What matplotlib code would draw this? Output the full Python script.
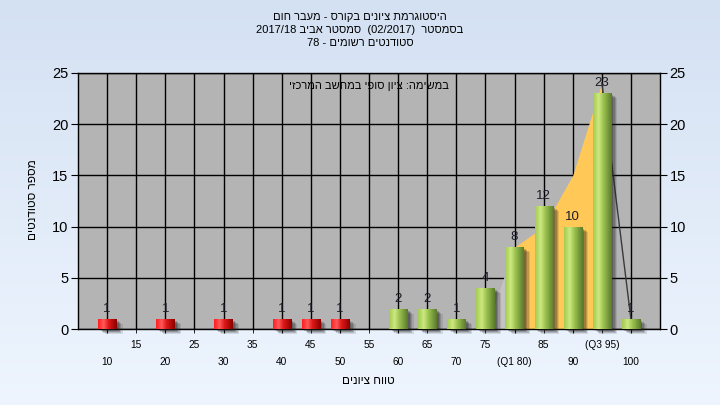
import numpy as np
import matplotlib
matplotlib.use("Agg")
import matplotlib.pyplot as plt
import matplotlib.patheffects as pe
from matplotlib.colors import LinearSegmentedColormap

plt.rcParams['font.family'] = ['Liberation Sans', 'DejaVu Sans']

# ---------------------------------------------------------------- data
grades = [10, 15, 20, 25, 30, 35, 40, 45, 50, 55, 60, 65, 70, 75, 80, 85, 90, 95, 100]
counts = [1, 0, 1, 0, 1, 0, 1, 1, 1, 0, 2, 2, 1, 4, 8, 12, 10, 23, 1]
q1_grade = 80
q3_grade = 95
pass_grade = 55

# band drawn behind the bars
area_grades = [75, 80, 85, 90, 95, 100]
area_values = [0, 8, 10, 15, 24, 1]

title_lines = ["היסטוגרמת ציונים בקורס - מעבר חום",
               "בסמסטר  (02/2017)  סמסטר אביב 2017/18",
               "סטודנטים רשומים - 78"]
task_text = "במשימה: ציון סופי במחשב המרכזי"
x_title = "טווח ציונים"
y_title = "מספר סטודנטים"

tick_text = []
for g in grades:
    if g == q1_grade:
        tick_text.append("(Q1 %d)" % g)
    elif g == q3_grade:
        tick_text.append("(Q3 %d)" % g)
    else:
        tick_text.append(str(g))


def visual(s):
    # small bidi pass (LTR paragraph) so hebrew shows right-to-left
    n = len(s)
    types = []
    for ch in s:
        if '\u0590' <= ch <= '\u05ff':
            types.append('R')
        elif ch.isdigit():
            types.append('EN')
        elif ch.isalpha():
            types.append('L')
        else:
            types.append('N')
    for i in range(1, n - 1):
        if s[i] in '/.,:' and types[i-1] == 'EN' and types[i+1] == 'EN':
            types[i] = 'EN'
    last = 'L'
    for i, t in enumerate(types):
        if t in ('L', 'R'):
            last = t
        elif t == 'EN' and last == 'L':
            types[i] = 'L'
    i = 0
    while i < n:
        if types[i] == 'N':
            j = i
            while j < n and types[j] == 'N':
                j += 1
            before = 'L' if i == 0 else ('R' if types[i-1] in ('R', 'EN') else 'L')
            after = 'L' if j == n else ('R' if types[j] in ('R', 'EN') else 'L')
            d = before if before == after else 'L'
            for k in range(i, j):
                types[k] = d
            i = j
        else:
            i += 1
    cells = [(ch, {'L': 0, 'R': 1, 'EN': 2}[t]) for ch, t in zip(s, types)]
    for lev in (2, 1):
        i = 0
        while i < n:
            if cells[i][1] >= lev:
                j = i
                while j < n and cells[j][1] >= lev:
                    j += 1
                cells[i:j] = cells[i:j][::-1]
                i = j
            else:
                i += 1
    mirror = {'(': ')', ')': '('}
    return ''.join(mirror.get(c, c) if lev % 2 == 1 else c for c, lev in cells)


# ---------------------------------------------------------------- figure
fig = plt.figure(figsize=(7.2, 4.05), dpi=100)

bg = fig.add_axes([0, 0, 1, 1], zorder=-10)
grad = LinearSegmentedColormap.from_list("bg", ["#d4e1f3", "#eef5fe"])
bg.imshow(np.linspace(0, 1, 256)[:, None], cmap=grad, aspect='auto', extent=(0, 1, 0, 1))
bg.axis('off')

W, H = 720.0, 405.0
ax = fig.add_axes([78 / W, 1 - 329.3 / H, (660 - 78) / W, (329.3 - 72.7) / H])
ax.set_facecolor("#b4b4b4")

x = np.arange(len(grades))
pos = {g: i for i, g in enumerate(grades)}

# band behind bars
ax_x = np.array([pos[g] for g in area_grades])
ay = np.array(area_values)
i1, i3 = area_grades.index(q1_grade), area_grades.index(q3_grade)
ax.fill_between(ax_x[:i1+1], 0, ay[:i1+1], color="#c3c3c3", lw=0, zorder=2)
ax.fill_between(ax_x[i1:i3+1], 0, ay[i1:i3+1], color="#ffc857", lw=0, zorder=2)
ax.plot(ax_x[i3:], ay[i3:], color="#3a3a3a", lw=1, zorder=2)

red_cmap = LinearSegmentedColormap.from_list("r", [(0, "#ff1e1e"), (0.3, "#ff5a5a"), (0.55, "#e01818"), (1, "#8c0000")])
green_cmap = LinearSegmentedColormap.from_list("g", [(0, "#a2cc52"), (0.3, "#cde87f"), (0.55, "#9cc350"), (1, "#5b7a2c")])
strip = np.linspace(0, 1, 64)[None, :]

shadow = [pe.SimplePatchShadow(offset=(o, -0.75 * o), shadow_rgbFace='#202020', alpha=a)
          for o, a in ((4.8, 0.12), (3.8, 0.18), (2.8, 0.22), (1.8, 0.25))]

bw = 0.62
shown = [i for i in x if counts[i] > 0]
bars = ax.bar([x[i] for i in shown], [counts[i] for i in shown], width=bw,
              color="#888888", zorder=3, clip_on=False,
              path_effects=shadow + [pe.Normal()])
for b, i in zip(bars, shown):
    cm = red_cmap if grades[i] <= pass_grade else green_cmap
    im = ax.imshow(strip, cmap=cm, aspect='auto', zorder=4,
                   extent=(b.get_x(), b.get_x() + b.get_width(), 0, b.get_height()))
    im.set_clip_path(b)
    ax.annotate(str(counts[i]), (x[i], counts[i]), xytext=(0, 5), textcoords='offset points',
                ha='center', va='baseline', fontsize=9.5, color="#1c1c2a", zorder=6)

ax.set_xlim(-1, len(grades))
ax.set_ylim(0, 25)

# two rows of x labels
ax.set_xticks(x[0::2])
ax.set_xticklabels(tick_text[0::2])
ax.set_xticks(x[1::2], minor=True)
ax.set_xticklabels(tick_text[1::2], minor=True)
ax.tick_params(axis='x', which='major', length=3, pad=17, labelsize=7.3, direction='out')
ax.tick_params(axis='x', which='minor', length=3, pad=4.8, labelsize=7.3, direction='out')
ax.set_yticks([0, 5, 10, 15, 20, 25])
ax.tick_params(axis='y', length=5, pad=2, labelsize=10.5, direction='out',
               left=True, right=True, labelleft=True, labelright=True)

ax.grid(True, which='both', color='black', lw=1, zorder=1)
ax.set_axisbelow(True)
for sp in ax.spines.values():
    sp.set_color('black')
    sp.set_linewidth(1)

# texts
for k, line in enumerate(title_lines):
    fig.text(360 / W, 1 - (17 + 13 * k) / H, visual(line), ha='center', va='center', fontsize=8)
ax.text(0.5, 1 - (86 - 72.7) / (329.3 - 72.7), visual(task_text), transform=ax.transAxes,
        ha='center', va='center', fontsize=8, zorder=7)
fig.text(368 / W, 1 - 381 / H, visual(x_title), ha='center', va='center', fontsize=8.5)
fig.text(33 / W, 1 - 200 / H, visual(y_title), ha='center', va='center', fontsize=8.5, rotation=90)

fig.savefig("out.png", dpi=100)
